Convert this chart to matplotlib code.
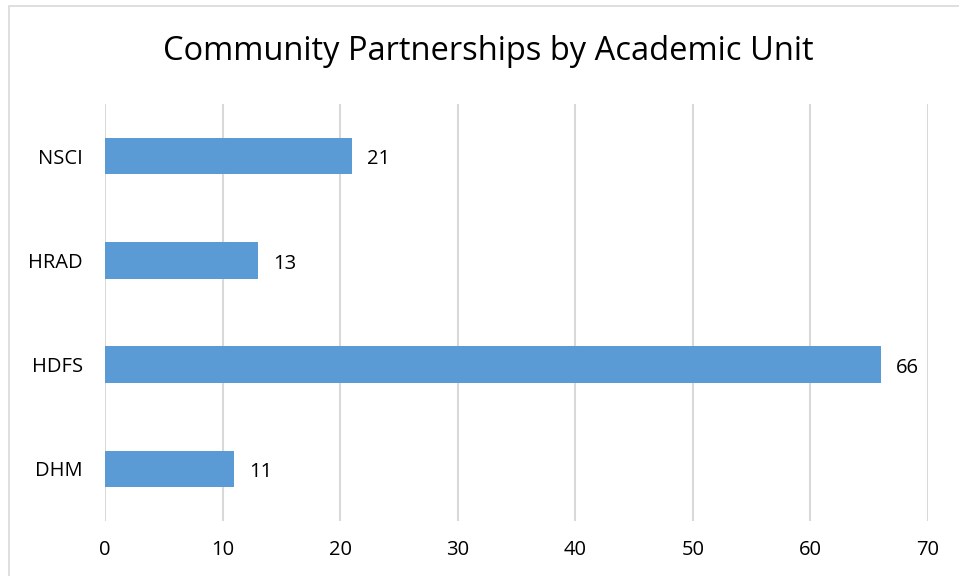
import matplotlib
matplotlib.use("Agg")
import matplotlib.pyplot as plt
from matplotlib.patches import Rectangle

categories = ["DHM", "HDFS", "HRAD", "NSCI"]
values = [11, 66, 13, 21]
xticks = [0, 10, 20, 30, 40, 50, 60, 70]

plt.rcParams['font.family'] = ['Open Sans', 'DejaVu Sans']

W, H = 959, 576
fig = plt.figure(figsize=(W/100, H/100), dpi=100)
fig.patch.set_facecolor('white')

# outer chart border
fig.add_artist(Rectangle((9/W, -0.01), (W-9)/W + 0.01, 1 - 6/H + 0.01,
                         transform=fig.transFigure, fill=False,
                         edgecolor='#d9d9d9', linewidth=1.2))

left, right = 105/W, 928/W
top, bottom = 1 - 104/H, 1 - 521/H
ax = fig.add_axes([left, bottom, right-left, top-bottom])

ypos = list(range(len(categories)))
bars = ax.barh(ypos, values, height=0.35, color='#5b9bd5', zorder=3)
ax.set_xlim(0, 70)
ax.set_ylim(-0.5, len(categories)-0.5)
ax.set_xticks(xticks)
ax.set_xticklabels([str(t) for t in xticks], fontsize=14.5)
ax.set_yticks(ypos)
ax.set_yticklabels(categories, fontsize=14.5)
ax.tick_params(axis='both', length=0)
ax.tick_params(axis='x', pad=14)
ax.tick_params(axis='y', pad=16)
ax.grid(axis='x', color='#d9d9d9', linewidth=1.5, zorder=0)
for s in ax.spines.values():
    s.set_visible(False)

for y, v in zip(ypos, values):
    ax.text(v + 1.3, y - 0.03, str(v), va='center', ha='left', fontsize=14.5, color='black')

fig.text(488/W, 1 - 51/H, "Community Partnerships by Academic Unit",
         ha='center', va='center', fontsize=23.5, color='black')

fig.savefig("out.png", dpi=100)
